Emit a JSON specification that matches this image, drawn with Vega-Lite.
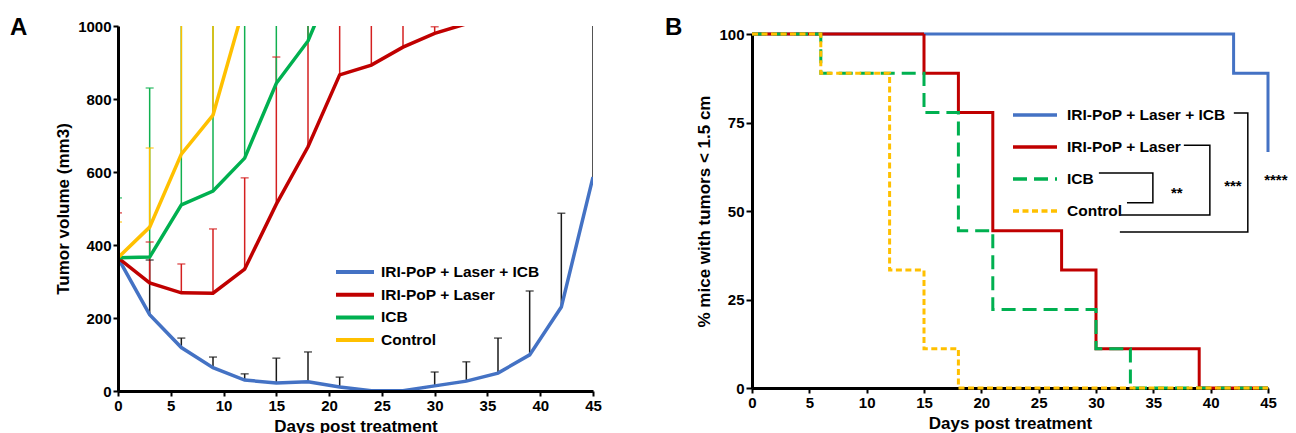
{
  "$schema": "https://vega.github.io/schema/vega-lite/v6.json",
  "padding": {"left": 10, "top": 16, "right": 2, "bottom": 0},
  "spacing": 63,
  "config": {
    "font": "Liberation Sans",
    "view": {"stroke": null},
    "axis": {
      "grid": false,
      "domainColor": "#000000",
      "domainWidth": 3,
      "tickColor": "#000000",
      "tickWidth": 2,
      "tickSize": 5,
      "labelFont": "Liberation Sans",
      "labelFontSize": 15,
      "labelFontWeight": "bold",
      "labelColor": "#000000",
      "labelPadding": 2,
      "labelFlush": false,
      "labelOverlap": false,
      "titleFont": "Liberation Sans",
      "titleFontSize": 17,
      "titleFontWeight": "bold",
      "titleColor": "#000000",
      "titlePadding": 5
    },
    "title": {"fontSize": 24, "fontWeight": "bold", "anchor": "start", "frame": "group", "color": "#000000", "font": "Liberation Sans", "offset": 0},
    "legend": {
      "labelFont": "Liberation Sans",
      "labelFontWeight": "bold",
      "labelColor": "#000000",
      "symbolType": "stroke",
      "clipHeight": 16,
      "padding": 0
    }
  },
  "datasets": {
    "growth": [
      {"group": "IRI-PoP + Laser + ICB", "day": 0, "volume": 365},
      {"group": "IRI-PoP + Laser + ICB", "day": 3, "volume": 209, "upper": 359},
      {"group": "IRI-PoP + Laser + ICB", "day": 6, "volume": 119, "upper": 145},
      {"group": "IRI-PoP + Laser + ICB", "day": 9, "volume": 64, "upper": 93},
      {"group": "IRI-PoP + Laser + ICB", "day": 12, "volume": 30, "upper": 47},
      {"group": "IRI-PoP + Laser + ICB", "day": 15, "volume": 22, "upper": 90},
      {"group": "IRI-PoP + Laser + ICB", "day": 18, "volume": 25, "upper": 107},
      {"group": "IRI-PoP + Laser + ICB", "day": 21, "volume": 11, "upper": 38},
      {"group": "IRI-PoP + Laser + ICB", "day": 24, "volume": 1},
      {"group": "IRI-PoP + Laser + ICB", "day": 27, "volume": 1},
      {"group": "IRI-PoP + Laser + ICB", "day": 30, "volume": 14, "upper": 52},
      {"group": "IRI-PoP + Laser + ICB", "day": 33, "volume": 27, "upper": 80},
      {"group": "IRI-PoP + Laser + ICB", "day": 36, "volume": 49, "upper": 145},
      {"group": "IRI-PoP + Laser + ICB", "day": 39, "volume": 99, "upper": 274},
      {"group": "IRI-PoP + Laser + ICB", "day": 42, "volume": 230, "upper": 487},
      {"group": "IRI-PoP + Laser + ICB", "day": 45, "volume": 586, "upper": 1100},
      {"group": "IRI-PoP + Laser", "day": 0, "volume": 365, "upper": 488},
      {"group": "IRI-PoP + Laser", "day": 3, "volume": 296, "upper": 408},
      {"group": "IRI-PoP + Laser", "day": 6, "volume": 269, "upper": 348},
      {"group": "IRI-PoP + Laser", "day": 9, "volume": 268, "upper": 444},
      {"group": "IRI-PoP + Laser", "day": 12, "volume": 334, "upper": 584},
      {"group": "IRI-PoP + Laser", "day": 15, "volume": 512, "upper": 915},
      {"group": "IRI-PoP + Laser", "day": 18, "volume": 669, "upper": 1100},
      {"group": "IRI-PoP + Laser", "day": 21, "volume": 866, "upper": 1100},
      {"group": "IRI-PoP + Laser", "day": 24, "volume": 893, "upper": 1100},
      {"group": "IRI-PoP + Laser", "day": 27, "volume": 942, "upper": 1100},
      {"group": "IRI-PoP + Laser", "day": 30, "volume": 980, "upper": 998},
      {"group": "IRI-PoP + Laser", "day": 33, "volume": 1006},
      {"group": "ICB", "day": 0, "volume": 365, "upper": 529},
      {"group": "ICB", "day": 3, "volume": 367, "upper": 830},
      {"group": "ICB", "day": 6, "volume": 510, "upper": 1100},
      {"group": "ICB", "day": 9, "volume": 548, "upper": 1100},
      {"group": "ICB", "day": 12, "volume": 638, "upper": 1100},
      {"group": "ICB", "day": 15, "volume": 843, "upper": 1100},
      {"group": "ICB", "day": 18, "volume": 959, "upper": 1100},
      {"group": "ICB", "day": 21, "volume": 1165},
      {"group": "Control", "day": 0, "volume": 365, "upper": 463},
      {"group": "Control", "day": 3, "volume": 449, "upper": 666},
      {"group": "Control", "day": 6, "volume": 649, "upper": 1100},
      {"group": "Control", "day": 9, "volume": 756, "upper": 1100},
      {"group": "Control", "day": 12, "volume": 1061}
    ],
    "survival": [
      {"group": "IRI-PoP + Laser + ICB", "day": 0, "pct": 100},
      {"group": "IRI-PoP + Laser + ICB", "day": 42, "pct": 88.9},
      {"group": "IRI-PoP + Laser + ICB", "day": 45, "pct": 66.7},
      {"group": "IRI-PoP + Laser", "day": 0, "pct": 100},
      {"group": "IRI-PoP + Laser", "day": 15, "pct": 88.9},
      {"group": "IRI-PoP + Laser", "day": 18, "pct": 77.8},
      {"group": "IRI-PoP + Laser", "day": 21, "pct": 44.4},
      {"group": "IRI-PoP + Laser", "day": 27, "pct": 33.3},
      {"group": "IRI-PoP + Laser", "day": 30, "pct": 11.1},
      {"group": "IRI-PoP + Laser", "day": 39, "pct": 0},
      {"group": "IRI-PoP + Laser", "day": 45, "pct": 0},
      {"group": "ICB", "day": 0, "pct": 100},
      {"group": "ICB", "day": 6, "pct": 88.9},
      {"group": "ICB", "day": 15, "pct": 77.8},
      {"group": "ICB", "day": 18, "pct": 44.4},
      {"group": "ICB", "day": 21, "pct": 22.2},
      {"group": "ICB", "day": 30, "pct": 11.1},
      {"group": "ICB", "day": 33, "pct": 0},
      {"group": "ICB", "day": 45, "pct": 0},
      {"group": "Control", "day": 0, "pct": 100},
      {"group": "Control", "day": 6, "pct": 88.9},
      {"group": "Control", "day": 12, "pct": 33.3},
      {"group": "Control", "day": 15, "pct": 11.1},
      {"group": "Control", "day": 18, "pct": 0},
      {"group": "Control", "day": 45, "pct": 0}
    ],
    "brackets": [
      {"bracket": "ICB vs Control", "k": 1, "x": 30.25, "y": 60.7},
      {"bracket": "ICB vs Control", "k": 2, "x": 34.96, "y": 60.7},
      {"bracket": "ICB vs Control", "k": 3, "x": 34.96, "y": 52.3},
      {"bracket": "ICB vs Control", "k": 4, "x": 32.7, "y": 52.3},
      {"bracket": "Laser vs Control", "k": 1, "x": 37.66, "y": 68.6},
      {"bracket": "Laser vs Control", "k": 2, "x": 39.93, "y": 68.6},
      {"bracket": "Laser vs Control", "k": 3, "x": 39.93, "y": 48.9},
      {"bracket": "Laser vs Control", "k": 4, "x": 32.17, "y": 48.9},
      {"bracket": "Laser ICB vs Control", "k": 1, "x": 42.02, "y": 77.7},
      {"bracket": "Laser ICB vs Control", "k": 2, "x": 43.24, "y": 77.7},
      {"bracket": "Laser ICB vs Control", "k": 3, "x": 43.24, "y": 44.1},
      {"bracket": "Laser ICB vs Control", "k": 4, "x": 32.08, "y": 44.1}
    ],
    "stars": [
      {"label": "**", "x": 37.05, "y": 53.7},
      {"label": "***", "x": 41.94, "y": 55.6},
      {"label": "****", "x": 45.68, "y": 57.3}
    ]
  },
  "hconcat": [
    {
      "title": {"text": "A", "dx": -108, "dy": 25},
      "width": 475,
      "height": 365,
      "data": {"name": "growth"},
      "layer": [
        {
          "transform": [{"filter": "isValid(datum.upper)"}],
          "mark": {"type": "rule", "strokeWidth": 1.5, "clip": true},
          "encoding": {
            "x": {"field": "day", "type": "quantitative", "scale": {"domain": [0, 45], "nice": false}, "axis": {"values": [0, 5, 10, 15, 20, 25, 30, 35, 40, 45], "title": "Days post treatment", "zindex": 1}},
            "y": {"field": "volume", "type": "quantitative", "scale": {"domain": [0, 1000], "nice": false}, "axis": {"values": [0, 200, 400, 600, 800, 1000], "format": "d", "title": "Tumor volume (mm3)", "zindex": 1}},
            "y2": {"field": "upper"},
            "color": {"field": "group", "type": "nominal", "scale": {"domain": ["IRI-PoP + Laser + ICB", "IRI-PoP + Laser", "ICB", "Control"], "range": ["#1a1a1a", "#d42020", "#10b050", "#ffc000"]}, "legend": null}
          }
        },
        {
          "transform": [{"filter": "isValid(datum.upper)"}],
          "mark": {"type": "tick", "orient": "horizontal", "thickness": 1.5, "size": 8, "clip": true},
          "encoding": {
            "x": {"field": "day", "type": "quantitative", "scale": {"domain": [0, 45], "nice": false}, "axis": {"values": [0, 5, 10, 15, 20, 25, 30, 35, 40, 45], "title": "Days post treatment", "zindex": 1}},
            "y": {"field": "upper", "type": "quantitative", "scale": {"domain": [0, 1000], "nice": false}, "axis": {"values": [0, 200, 400, 600, 800, 1000], "format": "d", "title": "Tumor volume (mm3)", "zindex": 1}},
            "color": {"field": "group", "type": "nominal", "scale": {"domain": ["IRI-PoP + Laser + ICB", "IRI-PoP + Laser", "ICB", "Control"], "range": ["#1a1a1a", "#d42020", "#10b050", "#ffc000"]}, "legend": null}
          }
        },
        {
          "mark": {"type": "line", "strokeWidth": 3.5, "clip": true},
          "encoding": {
            "x": {"field": "day", "type": "quantitative", "scale": {"domain": [0, 45], "nice": false}, "axis": {"values": [0, 5, 10, 15, 20, 25, 30, 35, 40, 45], "title": "Days post treatment", "zindex": 1}},
            "y": {"field": "volume", "type": "quantitative", "scale": {"domain": [0, 1000], "nice": false}, "axis": {"values": [0, 200, 400, 600, 800, 1000], "format": "d", "title": "Tumor volume (mm3)", "zindex": 1}},
            "color": {
              "field": "group", "type": "nominal",
              "scale": {"domain": ["IRI-PoP + Laser + ICB", "IRI-PoP + Laser", "ICB", "Control"], "range": ["#4472c4", "#c00000", "#00b050", "#ffc000"]},
              "legend": {"title": null, "orient": "none", "legendX": 216, "legendY": 238, "symbolSize": 1444, "symbolStrokeWidth": 4, "rowPadding": 5.7, "labelFontSize": 15.5, "labelOffset": 5}
            }
          }
        }
      ],
      "resolve": {"scale": {"color": "independent"}}
    },
    {
      "title": {"text": "B", "dx": -87, "dy": 18},
      "width": 516,
      "height": 362,
      "layer": [
        {
          "data": {"name": "survival"},
          "mark": {"type": "line", "interpolate": "step-after", "strokeWidth": 3},
          "encoding": {
            "x": {"field": "day", "type": "quantitative", "scale": {"domain": [0, 45], "nice": false}, "axis": {"values": [0, 5, 10, 15, 20, 25, 30, 35, 40, 45], "title": "Days post treatment"}},
            "y": {"field": "pct", "type": "quantitative", "scale": {"domain": [0, 100], "nice": false, "range": [362, 8]}, "axis": {"values": [0, 25, 50, 75, 100], "title": "% mice with tumors < 1.5 cm", "tickSize": 6}},
            "color": {
              "field": "group", "type": "nominal",
              "scale": {"domain": ["IRI-PoP + Laser + ICB", "IRI-PoP + Laser", "ICB", "Control"], "range": ["#4472c4", "#c00000", "#00b050", "#ffc000"]},
              "legend": {"title": null, "orient": "none", "legendX": 893, "legendY": 81, "symbolSize": 1936, "symbolStrokeWidth": 3.5, "rowPadding": 15, "labelFontSize": 15.5, "labelOffset": 8}
            },
            "strokeDash": {
              "field": "group", "type": "nominal",
              "scale": {"domain": ["IRI-PoP + Laser + ICB", "IRI-PoP + Laser", "ICB", "Control"], "range": [[1, 0], [1, 0], [14, 7], [6, 3.5]]},
              "legend": {"title": null, "orient": "none", "legendX": 893, "legendY": 81, "symbolSize": 1936, "symbolStrokeWidth": 3.5, "rowPadding": 15, "labelFontSize": 15.5, "labelOffset": 8}
            }
          }
        },
        {
          "data": {"name": "brackets"},
          "mark": {"type": "line", "color": "#000000", "strokeWidth": 1.5},
          "encoding": {
            "x": {"field": "x", "type": "quantitative", "scale": {"domain": [0, 45], "nice": false}, "axis": {"values": [0, 5, 10, 15, 20, 25, 30, 35, 40, 45], "title": "Days post treatment"}},
            "y": {"field": "y", "type": "quantitative", "scale": {"domain": [0, 100], "nice": false, "range": [362, 8]}, "axis": {"values": [0, 25, 50, 75, 100], "title": "% mice with tumors < 1.5 cm", "tickSize": 6}},
            "detail": {"field": "bracket", "type": "nominal"},
            "order": {"field": "k", "type": "quantitative"}
          }
        },
        {
          "data": {"name": "stars"},
          "mark": {"type": "text", "fontSize": 15, "fontWeight": "bold", "baseline": "alphabetic", "align": "center", "color": "#000000"},
          "encoding": {
            "x": {"field": "x", "type": "quantitative", "scale": {"domain": [0, 45], "nice": false}, "axis": {"values": [0, 5, 10, 15, 20, 25, 30, 35, 40, 45], "title": "Days post treatment"}},
            "y": {"field": "y", "type": "quantitative", "scale": {"domain": [0, 100], "nice": false, "range": [362, 8]}, "axis": {"values": [0, 25, 50, 75, 100], "title": "% mice with tumors < 1.5 cm", "tickSize": 6}},
            "text": {"field": "label", "type": "nominal"}
          }
        }
      ]
    }
  ]
}
